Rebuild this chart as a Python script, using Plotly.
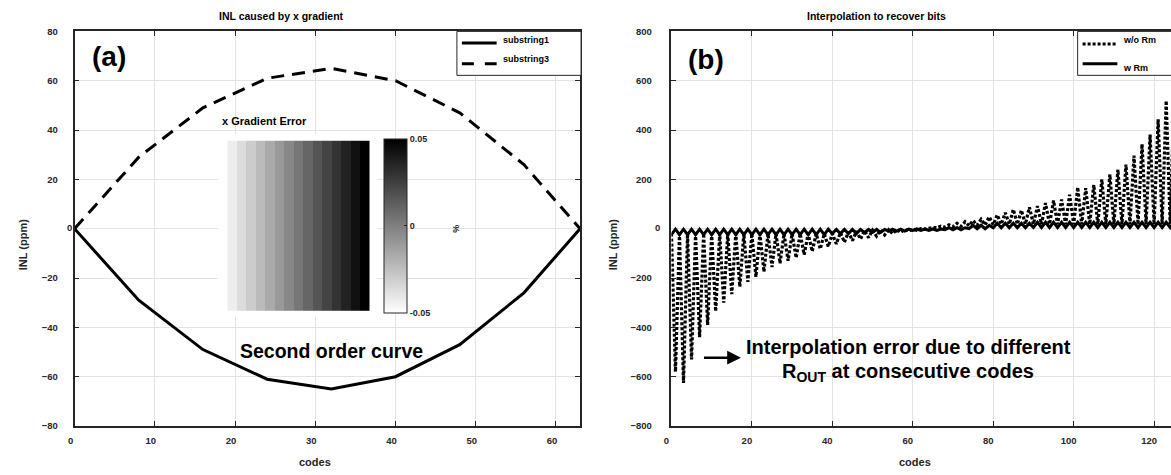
import plotly.graph_objects as go

W, H = 1171, 475
FONT = "Liberation Sans, Arial, sans-serif"
DARK = "#262626"
GRID = "#e3e3e3"

# ---------------- Panel (a) data ----------------
codes_a = [0, 8, 16, 24, 32, 40, 48, 56, 63]
substring1 = [0, -29, -49, -61, -65, -60, -47, -26, 0]
substring3 = [0, 29, 49, 61, 65, 60, 47, 26, 0]

gradient_cols = list(range(15))
gradient_vals = [-0.0433, -0.0367, -0.03, -0.0233, -0.0167, -0.01, -0.0033,
                 0.0033, 0.01, 0.0167, 0.0233, 0.03, 0.0367, 0.0433, 0.05]

xticks_a = [0, 10, 20, 30, 40, 50, 60]
yticks_a = [-80, -60, -40, -20, 20, 40, 60, 80]

# ---------------- Panel (b) data ----------------
codes_b = list(range(128))
wo_rm = [
    -20, -580, -20, -625, -20, -530, -20, -440, -20, -390,
    -20, -335, -20, -300, -20, -265, -20, -235, -20, -215,
    -20, -195, -20, -175, -20, -155, -20, -140, -20, -130,
    -20, -118, -20, -105, -20, -92, -20, -82, -20, -72,
    -20, -62, -16, -55, -13, -48, -10, -42, -8, -36,
    -6, -30, -5, -25, -4, -20, -3, -15, -2, -11,
    -1, -6, 0, -2, 2, 5, 4, 10, 6, 16,
    8, 22, 10, 28, 12, 33, 14, 38, 15, 48,
    16, 56, 18, 65, 18, 78, 18, 75, 18, 87,
    18, 92, 18, 104, 18, 114, 18, 118, 18, 138,
    18, 168, 18, 164, 18, 178, 18, 200, 18, 220,
    18, 240, 18, 260, 18, 296, 18, 343, 18, 382,
    18, 444, 18, 519, 18, 560, 18, 600,
]
w_rm = [
    -24, -2, -24, -2, -24, -2, -24, -2, -24, -2,
    -24, -2, -24, -2, -24, -2, -24, -2, -24, -2,
    -24, -2, -24, -2, -24, -2, -24, -2, -24, -2,
    -24, -2, -24, -2, -24, -2, -24, -2, -24, -2,
    -20, -3, -20, -3, -20, -3, -20, -3, -15, -3,
    -15, -3, -15, -3, -10, -2, -10, -2, -10, -2,
    -7, -1, -7, -1, -7, -1, -7, -1, -4, 4,
    -4, 4, -4, 4, 0, 14, 0, 14, 0, 14,
    4, 22, 4, 22, 4, 22, 4, 22, 4, 22,
    5, 26, 5, 26, 5, 26, 5, 26, 5, 26,
    5, 26, 5, 26, 5, 26, 5, 26, 5, 26,
    5, 26, 5, 26, 5, 26, 5, 26, 5, 26,
    5, 26, 5, 26, 5, 26, 5, 26,
]
xticks_b = [0, 20, 40, 60, 80, 100, 120]
yticks_b = [-800, -600, -400, -200, 200, 400, 600, 800]


def px(x):
    return x / W


def py(y):
    return 1 - y / H


fig = go.Figure()

fig.add_trace(go.Scatter(x=codes_a, y=substring1, mode="lines", name="substring1",
                         line=dict(color="black", width=3), xaxis="x", yaxis="y",
                         showlegend=False))
fig.add_trace(go.Scatter(x=codes_a, y=substring3, mode="lines", name="substring3",
                         line=dict(color="black", width=3, dash="13px,8px"),
                         xaxis="x", yaxis="y", showlegend=False))

fig.add_trace(go.Heatmap(
    z=[gradient_vals], x=gradient_cols, y=[0], xaxis="x3", yaxis="y3",
    colorscale=[[0, "#ffffff"], [1, "#000000"]], zmin=-0.05, zmax=0.05,
    showscale=True,
    colorbar=dict(x=px(379), xanchor="left", xpad=0, y=py(225), yanchor="middle",
                  ypad=0, len=174, lenmode="pixels", thickness=23,
                  thicknessmode="pixels", outlinewidth=1, outlinecolor=DARK,
                  tickvals=[-0.05, 0, 0.05], ticktext=["-0.05", "0", "0.05"],
                  ticks="inside", ticklen=3, tickcolor=DARK,
                  tickfont=dict(family=FONT, size=9, color=DARK, weight="bold")),
))

fig.add_trace(go.Scatter(x=codes_b, y=wo_rm, mode="lines", name="w/o Rm",
                         line=dict(color="black", width=3.2, dash="3px,2px"),
                         xaxis="x2", yaxis="y2", showlegend=False))
fig.add_trace(go.Scatter(x=codes_b, y=w_rm, mode="lines", name="w Rm",
                         line=dict(color="black", width=3), xaxis="x2", yaxis="y2",
                         showlegend=False))

tickfont = dict(family=FONT, size=9.5, color=DARK, weight="bold")
common = dict(showgrid=True, gridcolor=GRID, gridwidth=1, showline=True,
              linecolor=DARK, linewidth=1.5, ticks="inside", ticklen=5,
              tickcolor=DARK, tickwidth=1, tickfont=tickfont)

yd = [py(430), py(26)]
fig.update_layout(
    width=W, height=H, autosize=False,
    margin=dict(l=0, r=0, t=0, b=0, pad=0),
    paper_bgcolor="white", plot_bgcolor="white",
    xaxis=dict(domain=[px(67), px(576)], range=[0, 63], tickvals=xticks_a,
               mirror="ticks", anchor="y", ticklabelstandoff=5, ticklabelshift=-4,
               zeroline=False, **common),
    yaxis=dict(domain=yd, range=[-80, 80], tickvals=yticks_a,
               mirror="ticks", anchor="x", ticklabelstandoff=13,
               zeroline=True, zerolinecolor=GRID, zerolinewidth=1, **common),
    xaxis2=dict(domain=[px(668), 1], range=[0, 124.2], tickvals=xticks_b,
                mirror="ticks", anchor="y2", ticklabelstandoff=5, ticklabelshift=-5,
                zeroline=False, **common),
    yaxis2=dict(domain=yd, range=[-800, 800], tickvals=yticks_b,
                mirror=False, anchor="x2", ticklabelstandoff=16,
                zeroline=True, zerolinecolor=GRID, zerolinewidth=1, **common),
    xaxis3=dict(domain=[px(211), px(372)], range=[-1.55, 15.34], visible=False,
                anchor="y3", showgrid=False, zeroline=False),
    yaxis3=dict(domain=[py(318), py(131)], range=[-0.534, 0.54], visible=False,
                anchor="x3", showgrid=False, zeroline=False),
)


def ann(text, x, y, size, color="black", **kw):
    d = dict(text=text, x=px(x), y=py(y), xref="paper", yref="paper",
             showarrow=False, xanchor="center", yanchor="middle",
             font=dict(family=FONT, size=size, color=color, weight="bold"))
    d.update(kw)
    return d


annotations = [
    ann("INL caused by x gradient", 275, 10, 10.5),
    ann("Interpolation to recover bits", 874, 10, 10.5),
    ann("(a)", 102, 52, 28),
    ann("(b)", 703, 55, 28),
    ann("x Gradient Error", 258, 118, 11),
    ann("%", 451, 228, 9, color=DARK, textangle=-90),
    ann("Second order curve", 326, 353, 19.5),
    ann("Interpolation error due to different", 907, 349, 20),
    ann("R<sub>OUT</sub> at consecutive codes", 906, 375, 20),
    ann("codes", 309, 467, 11, color=DARK),
    ann("codes", 913, 467, 11, color=DARK),
    ann("INL (ppm)", 15, 244, 11, color=DARK, textangle=-90),
    ann("INL (ppm)", 610, 244, 11, color=DARK, textangle=-90),
    ann("0", 62, 227, 9.5, color=DARK),
    ann("0", 654, 227, 9.5, color=DARK),
    ann("substring1", 496, 35, 9, xanchor="left"),
    ann("substring3", 496, 54, 9, xanchor="left"),
    ann("w/o Rm", 1121, 35, 9, xanchor="left"),
    ann("w Rm", 1121, 63, 9, xanchor="left"),
    dict(text=" ", x=px(738), y=py(360), xref="paper", yref="paper",
         showarrow=True, ax=-40, ay=0, arrowhead=2, arrowsize=1.1,
         arrowwidth=2.5, arrowcolor="black"),
]

shapes = [
    # legend (a)
    dict(type="rect", xref="paper", yref="paper", x0=px(452), x1=px(577),
         y0=py(71), y1=py(26), line=dict(color=DARK, width=1), fillcolor="white",
         layer="above"),
    dict(type="line", xref="paper", yref="paper", x0=px(457), x1=px(492),
         y0=py(38), y1=py(38), line=dict(color="black", width=3), layer="above"),
    dict(type="line", xref="paper", yref="paper", x0=px(457), x1=px(492),
         y0=py(59), y1=py(59), line=dict(color="black", width=3, dash="12px,11px"),
         layer="above"),
    # legend (b)
    dict(type="rect", xref="paper", yref="paper", x0=px(1077), x1=px(1200),
         y0=py(71), y1=py(26), line=dict(color=DARK, width=1), fillcolor="white",
         layer="above"),
    dict(type="line", xref="paper", yref="paper", x0=px(1082), x1=px(1117),
         y0=py(39), y1=py(39), line=dict(color="black", width=3, dash="3px,2px"),
         layer="above"),
    dict(type="line", xref="paper", yref="paper", x0=px(1082), x1=px(1117),
         y0=py(59), y1=py(59), line=dict(color="black", width=3), layer="above"),
]

fig.update_layout(annotations=annotations, shapes=shapes)
fig.write_html("out.html")
